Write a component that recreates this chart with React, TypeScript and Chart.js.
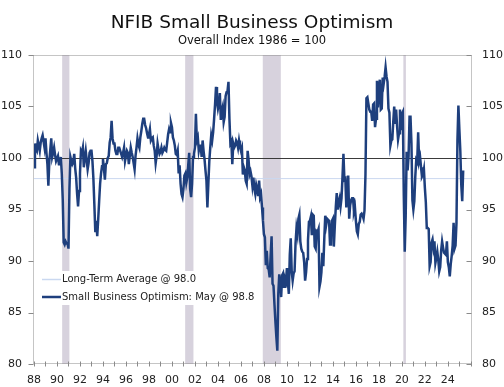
import React, { useEffect, useRef } from "react";
import { Chart, registerables } from "chart.js";

Chart.register(...registerables);

const FONT = "'DejaVu Sans', Verdana, sans-serif";

const TITLE = "NFIB Small Business Optimism";
const SUBTITLE = "Overall Index 1986 = 100";
const START_YEAR = 1988;
const MONTH_NAMES = ["Jan", "Feb", "Mar", "Apr", "May", "Jun", "Jul", "Aug", "Sep", "Oct", "Nov", "Dec"];

// Monthly index values, Jan 1988 onward (one row per year)
const optimism: number[] = [
  99.1, 101.4, 100.9, 100.7, 101.7, 101.2, 100.7, 101.5, 101.9, 102.2, 101.6, 101.0,
  101.9, 100.5, 99.4, 97.3, 99.7, 100.8, 101.9, 100.1, 100.5, 101.0, 100.3, 99.7,
  99.7, 100.2, 99.4, 99.4, 100.1, 98.5, 96.0, 91.8, 91.6, 91.9, 91.7, 91.7,
  91.2, 97.0, 100.1, 99.7, 99.4, 99.6, 100.4, 99.0, 98.1, 96.5, 95.3, 96.8,
  98.5, 100.7, 100.5, 101.0, 99.1, 100.0, 100.7, 99.8, 98.9, 99.5, 100.5, 100.7,
  100.7, 99.7, 98.0, 95.5, 92.8, 93.9, 92.4, 94.0, 95.8, 97.5, 98.5, 99.2,
  99.9, 99.0, 97.9, 99.4, 99.5, 100.0, 100.2, 101.5, 102.0, 103.6, 101.9, 101.4,
  101.4, 100.7, 100.4, 100.4, 101.0, 101.0, 100.7, 100.4, 100.1, 100.5, 101.0, 99.7,
  99.7, 100.7, 100.5, 99.4, 100.2, 101.0, 100.5, 100.1, 99.5, 98.9, 100.2, 101.0,
  101.9, 101.3, 101.0, 102.0, 102.6, 103.3, 103.8, 103.8, 103.2, 102.9, 102.4, 102.0,
  102.3, 102.8, 101.7, 101.9, 102.0, 101.2, 100.7, 99.5, 100.2, 101.4, 100.8, 100.4,
  100.6, 101.0, 100.5, 100.7, 101.0, 100.8, 100.7, 101.5, 102.3, 102.8, 102.5, 103.4,
  103.0, 102.0, 101.7, 101.2, 100.4, 100.3, 100.7, 98.5, 99.3, 97.5, 96.5, 96.2,
  97.0, 98.3, 98.5, 97.6, 98.1, 99.3, 100.5, 97.0, 96.2, 97.5, 100.1, 100.4,
  101.0, 104.3, 101.7, 102.0, 100.7, 101.2, 101.2, 100.1, 101.7, 100.7, 99.9, 98.8,
  97.8, 95.2, 97.5, 99.7, 101.0, 102.2, 101.7, 102.5, 103.8, 105.2, 106.9, 105.5,
  104.8, 105.3, 106.3, 103.7, 104.6, 105.0, 103.5, 104.0, 106.0, 106.4, 106.5, 107.4,
  103.8, 101.4, 101.6, 99.4, 101.4, 101.0, 101.2, 101.7, 101.5, 101.0, 101.7, 101.1,
  100.7, 101.0, 98.4, 99.1, 98.8, 97.8, 97.5, 100.7, 99.8, 98.4, 98.7, 98.2,
  97.3, 98.1, 97.0, 96.5, 97.4, 97.0, 96.3, 97.8, 96.2, 96.5, 95.2, 93.9,
  92.6, 92.3, 89.6, 91.0, 89.3, 89.2, 88.4, 90.5, 92.4, 87.8, 87.6, 85.8,
  84.1, 82.6, 81.3, 86.8, 88.7, 87.9, 86.5, 88.6, 88.8, 87.5, 88.3, 88.0,
  89.3, 88.0, 86.8, 90.6, 92.2, 89.0, 88.1, 88.8, 89.0, 91.7, 93.2, 92.6,
  94.1, 94.5, 91.9, 91.2, 90.9, 90.8, 89.9, 88.1, 88.9, 90.2, 92.0, 93.8,
  93.9, 94.3, 92.5, 94.5, 94.4, 91.4, 91.2, 92.9, 92.8, 93.1, 87.5, 88.0,
  88.9, 90.8, 89.5, 92.1, 94.4, 93.5, 94.1, 94.0, 93.9, 91.6, 92.5, 93.9,
  94.1, 91.4, 93.4, 95.2, 96.6, 95.0, 95.7, 96.1, 95.3, 96.1, 98.1, 100.4,
  97.9, 98.0, 95.2, 96.9, 98.3, 94.1, 95.4, 95.9, 96.1, 96.1, 94.8, 95.2,
  93.9, 92.9, 92.6, 93.6, 93.8, 94.5, 94.6, 94.4, 94.1, 94.9, 98.4, 105.8,
  105.9, 105.3, 104.7, 104.5, 104.5, 103.6, 105.2, 105.3, 103.0, 103.8, 107.5, 104.9,
  106.9, 107.6, 104.7, 104.8, 107.8, 107.2, 107.9, 108.8, 107.9, 107.4, 104.8, 104.4,
  101.2, 101.7, 101.8, 103.5, 105.0, 103.3, 104.7, 103.1, 101.8, 102.4, 104.7, 102.7,
  104.3, 104.5, 96.4, 90.9, 94.4, 100.6, 98.8, 100.2, 104.0, 104.0, 101.4, 95.9,
  95.0, 95.8, 98.2, 99.8, 99.6, 102.5, 99.7, 100.1, 99.1, 98.2, 98.4, 98.9,
  97.1, 95.7, 93.2, 93.2, 93.1, 89.5, 89.9, 91.8, 92.1, 91.3, 91.9, 89.8,
  90.3, 90.9, 90.1, 89.0, 89.4, 91.0, 91.9, 91.3, 90.8, 90.7, 90.6, 91.9,
  89.9, 89.4, 88.5, 89.7, 90.5, 91.5, 93.7, 91.2, 91.5, 93.7, 101.7, 105.1,
  102.8, 100.7, 97.4, 95.8, 98.8,
];

const LONG_TERM_AVERAGE = 98.0;
const REFERENCE_LEVEL = 100;

// Recession periods (decimal years)
const recessions: [number, number][] = [
  [1990.45, 1991.08],
  [2001.15, 2001.87],
  [2007.9, 2009.47],
  [2020.13, 2020.35],
];

const yTickValues = [80, 85, 90, 95, 100, 105, 110];
const X_MIN = 1988;
const X_MAX = 2026.1;
const Y_MIN = 80;
const Y_MAX = 110;

const lastIndex = optimism.length - 1;
const lastMonth = MONTH_NAMES[lastIndex % 12];
const lastValue = optimism[lastIndex];

const SERIES_LABEL = `Small Business Optimism: ${lastMonth} @ ${lastValue.toFixed(1)}`;
const AVG_LABEL = `Long-Term Average @ ${LONG_TERM_AVERAGE.toFixed(1)}`;

const LINE_COLOR = "#1e3f7d";
const AVG_COLOR = "#cad8f0";

const decorations = {
  id: "decorations",
  beforeDatasetsDraw(chart: any) {
    const { ctx, chartArea: a, scales } = chart;
    const x = scales.x;
    const y = scales.y;
    ctx.save();
    ctx.fillStyle = "#d7d2dd";
    recessions.forEach(([s, e]) => {
      const x1 = x.getPixelForValue(s);
      const x2 = x.getPixelForValue(e);
      ctx.fillRect(x1, a.top, x2 - x1, a.bottom - a.top);
    });
    const py = Math.round(y.getPixelForValue(REFERENCE_LEVEL)) + 0.5;
    ctx.strokeStyle = "#3a3a3a";
    ctx.lineWidth = 1;
    ctx.beginPath();
    ctx.moveTo(a.left, py);
    ctx.lineTo(a.right, py);
    ctx.stroke();
    ctx.restore();
  },
  afterDatasetsDraw(chart: any) {
    const { ctx, chartArea: a, scales } = chart;
    ctx.save();
    const L = Math.round(a.left) - 0.5;
    const R = Math.round(a.right) - 0.5;
    const T = Math.round(a.top) + 0.5;
    const B = Math.round(a.bottom) - 0.5;
    ctx.strokeStyle = "#8a8a8a";
    ctx.lineWidth = 1;
    ctx.setLineDash([1, 1]);
    ctx.beginPath();
    ctx.moveTo(L, T); ctx.lineTo(R, T);
    ctx.moveTo(L, T); ctx.lineTo(L, B);
    ctx.moveTo(R, T); ctx.lineTo(R, B);
    ctx.moveTo(L, B); ctx.lineTo(R, B);
    ctx.stroke();
    ctx.setLineDash([]);
    ctx.beginPath();
    yTickValues.forEach((v) => {
      const p = Math.round(scales.y.getPixelForValue(v)) + 0.5;
      ctx.moveTo(L - 5, p); ctx.lineTo(L, p);
      ctx.moveTo(R - 5, p); ctx.lineTo(R, p);
    });
    for (let yr = Math.ceil(X_MIN); yr <= Math.floor(X_MAX); yr++) {
      const p = Math.round(scales.x.getPixelForValue(yr)) + 0.5;
      ctx.moveTo(p, B - 2); ctx.lineTo(p, B + 3);
    }
    ctx.stroke();

    // legend box
    const boxL = a.left + 2;
    const boxT = a.bottom - 93;
    ctx.fillStyle = "#ffffff";
    ctx.fillRect(boxL, boxT, 222, 34);
    const rows = [
      { color: chart.data.datasets[1].borderColor, width: 1.5, text: chart.data.datasets[1].label, y: boxT + 8.5 },
      { color: chart.data.datasets[0].borderColor, width: 2.5, text: chart.data.datasets[0].label, y: boxT + 26 },
    ];
    ctx.font = `10px ${FONT}`;
    ctx.textBaseline = "middle";
    ctx.textAlign = "left";
    rows.forEach((r) => {
      ctx.strokeStyle = r.color;
      ctx.lineWidth = r.width;
      ctx.beginPath();
      ctx.moveTo(boxL + 6, r.y);
      ctx.lineTo(boxL + 25, r.y);
      ctx.stroke();
      ctx.fillStyle = "#222";
      ctx.fillText(r.text, boxL + 26, r.y);
    });
    ctx.restore();
  },
};

export default function App() {
  const canvasRef = useRef<HTMLCanvasElement | null>(null);

  useEffect(() => {
    document.body.style.margin = "0";
    const canvas = canvasRef.current;
    if (!canvas) return;
    const chart = new Chart(canvas, {
      type: "line",
      data: {
        datasets: [
          {
            label: SERIES_LABEL,
            data: optimism.map((v, i) => ({ x: START_YEAR + i / 12, y: v })),
            borderColor: LINE_COLOR,
            borderWidth: 2.5,
            pointRadius: 0,
            tension: 0,
            order: 0,
          },
          {
            label: AVG_LABEL,
            data: [
              { x: X_MIN, y: LONG_TERM_AVERAGE },
              { x: X_MAX, y: LONG_TERM_AVERAGE },
            ],
            borderColor: AVG_COLOR,
            borderWidth: 1,
            pointRadius: 0,
            order: 1,
          },
        ],
      },
      options: {
        responsive: false,
        animation: false,
        maintainAspectRatio: false,
        layout: { padding: 0 },
        plugins: {
          legend: { display: false },
          tooltip: { enabled: false },
          title: {
            display: true,
            text: TITLE,
            color: "#111",
            font: { family: FONT, size: 18.5, weight: "normal" },
            padding: { top: 12, bottom: 0 },
          },
          subtitle: {
            display: true,
            text: SUBTITLE,
            color: "#111",
            font: { family: FONT, size: 11.5, weight: "normal" },
            padding: { top: 0, bottom: 7 },
          },
        },
        scales: {
          x: {
            type: "linear",
            min: X_MIN,
            max: X_MAX,
            grid: { display: false, drawTicks: false },
            border: { display: false },
            ticks: {
              stepSize: 1,
              autoSkip: false,
              maxRotation: 0,
              padding: 10,
              color: "#222",
              font: { family: FONT, size: 11 },
              callback: (v: any) => {
                const n = Number(v);
                if (!Number.isInteger(n) || n % 2 !== 0 || n > 2024) return "";
                return String(n % 100).padStart(2, "0");
              },
            },
            afterFit: (s: any) => {
              s.height = 23;
            },
          },
          y: {
            position: "left",
            min: Y_MIN,
            max: Y_MAX,
            grid: { display: false, drawTicks: false },
            border: { display: false },
            ticks: { stepSize: 5, padding: 12, color: "#222", font: { family: FONT, size: 11 } },
            afterFit: (s: any) => {
              s.width = 34;
            },
          },
          y2: {
            position: "right",
            min: Y_MIN,
            max: Y_MAX,
            grid: { display: false, drawTicks: false },
            border: { display: false },
            ticks: { stepSize: 5, padding: 10, color: "#222", font: { family: FONT, size: 11 } },
            afterFit: (s: any) => {
              s.width = 32;
            },
          },
        },
      },
      plugins: [decorations],
    });
    return () => chart.destroy();
  }, []);

  return (
    <div style={{ position: "absolute", left: 0, top: 0, width: 504, height: 387 }}>
      <canvas ref={canvasRef} width={504} height={387} style={{ display: "block" }} />
    </div>
  );
}
